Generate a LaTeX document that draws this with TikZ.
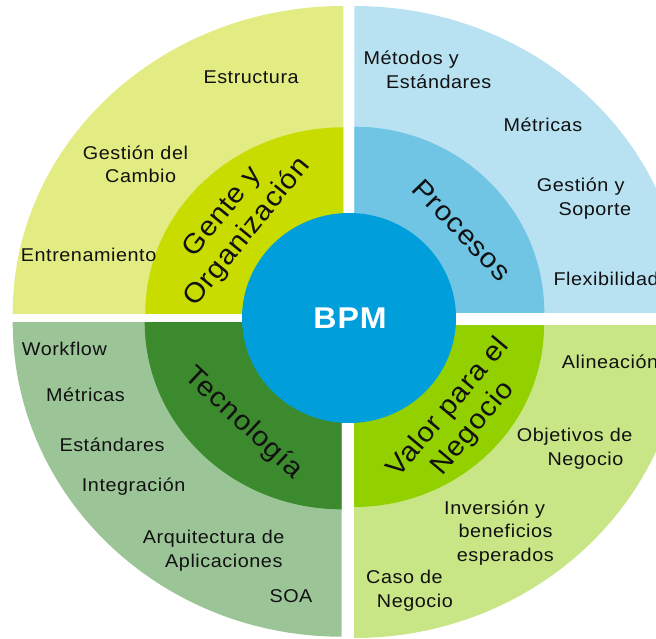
\documentclass[tikz,border=0pt]{standalone}
\usepackage{fontspec}
\setmainfont[FakeStretch=1.07,LetterSpace=3]{Liberation Sans}
\definecolor{tlo}{HTML}{E3EC83}
\definecolor{tli}{HTML}{C8DC00}
\definecolor{tro}{HTML}{B8E2F2}
\definecolor{tri}{HTML}{70C4E4}
\definecolor{blo}{HTML}{9CC597}
\definecolor{bli}{HTML}{3C8A2E}
\definecolor{bro}{HTML}{C8E686}
\definecolor{bri}{HTML}{93D000}
\definecolor{bpmc}{HTML}{009FDB}
\definecolor{txt}{HTML}{111111}
\newcommand\mylines[1]{\vtop{#1}}
\begin{document}
\begin{tikzpicture}[x=1pt,y=-1pt,
  lbl/.style={anchor=base west, inner sep=0pt, text=txt, font=\fontsize{18.5}{23.7}\selectfont},
  big/.style={inner sep=0pt, text=txt, align=center, font=\fontsize{27.5}{32}\selectfont}]
\useasboundingbox (0,0) rectangle (656,639);
% top-left
\begin{scope}
\clip (0,0) rectangle (343.3,313.3);
\fill[tlo] (343.3,313.3) ellipse [x radius=330.6pt, y radius=307.3pt];
\fill[tli] (343.3,313.3) ellipse [x radius=198pt, y radius=186pt];
\end{scope}
% top-right
\begin{scope}
\clip (354.3,0) rectangle (656,312.7);
\fill[tro] (354.3,312.7) ellipse [x radius=330pt, y radius=306.7pt];
\fill[tri] (354.3,312.7) ellipse [x radius=190pt, y radius=186pt];
\end{scope}
% bottom-left
\begin{scope}
\clip (0,322.3) rectangle (341.7,639);
\fill[blo] (341.7,322.3) ellipse [x radius=329pt, y radius=314.4pt];
\fill[bli] (341.7,322.3) ellipse [x radius=197pt, y radius=187pt];
\end{scope}
% bottom-right
\begin{scope}
\clip (354,325) rectangle (656,639);
\fill[bro] (354,325) ellipse [x radius=330pt, y radius=313pt];
\fill[bri] (354,325) ellipse [x radius=190pt, y radius=182pt];
\end{scope}
% centre
\fill[bpmc] (349,318) ellipse [x radius=107pt, y radius=105pt];
\node[text=white, inner sep=0pt, font=\fontsize{30}{30}\selectfont\bfseries] (bpm) at (350,318) {BPM};
% inner labels
\node[big, rotate=51] (gente) at (235.5,222.5) {Gente y\\Organización};
\node[big, rotate=-46] (proc) at (462,230) {Procesos};
\node[big, rotate=-43] (tec) at (243.3,423.3) {Tecnología};
\node[big, rotate=50] (valor) at (461,418) {Valor para el\\Negocio};
% top-left labels
\node[lbl] (estr) at (203.3,83.3) {Estructura};
\node[lbl] (gdc) at (82.7,159.3) {\mylines{\hbox{Gestión del}\hbox{\kern22.3pt Cambio}}};
\node[lbl] (entr) at (20.7,261.7) {Entrenamiento};
% top-right labels
\node[lbl] (mye) at (363.3,65) {\mylines{\hbox{Métodos y}\hbox{\kern22.7pt Estándares}}};
\node[lbl] (metr1) at (503.3,131.7) {Métricas};
\node[lbl] (gys) at (536.7,191.7) {\mylines{\hbox{Gestión y}\hbox{\kern21.6pt Soporte}}};
\node[lbl] (flex) at (553.3,285) {Flexibilidad};
% bottom-left labels
\node[lbl] (wf) at (21.7,355) {Workflow};
\node[lbl] (metr2) at (46,401.7) {Métricas};
\node[lbl] (est) at (59.3,451.7) {Estándares};
\node[lbl] (integ) at (81.7,491.7) {Integración};
\node[lbl] (arq) at (142.7,543.3) {\mylines{\hbox{Arquitectura de}\hbox{\kern22.3pt Aplicaciones}}};
\node[lbl] (soa) at (269.3,602.7) {SOA};
% bottom-right labels
\node[lbl] (alin) at (561.7,368.3) {Alineación};
\node[lbl] (obj) at (516.7,441.7) {\mylines{\hbox{Objetivos de}\hbox{\kern30.6pt Negocio}}};
\node[lbl] (inv) at (444,514) {\mylines{\hbox{Inversión y}\hbox{\kern14.3pt beneficios}\hbox{\kern12.7pt esperados}}};
\node[lbl] (caso) at (366,583.3) {\mylines{\hbox{Caso de}\hbox{\kern10.7pt Negocio}}};
\end{tikzpicture}
\end{document}
